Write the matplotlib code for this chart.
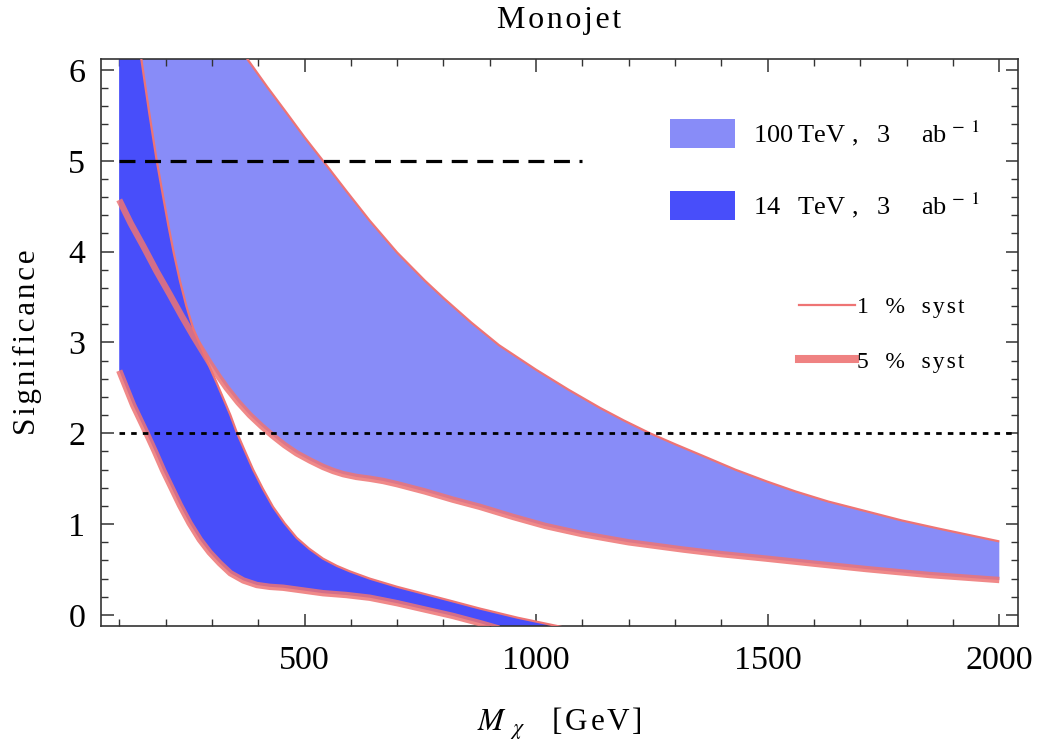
import matplotlib
matplotlib.use("Agg")
import matplotlib.pyplot as plt
from matplotlib.patches import Patch
from matplotlib.lines import Line2D

plt.rcParams['font.family'] = ['Liberation Serif', 'DejaVu Serif']
plt.rcParams['mathtext.fontset'] = 'stix'

# ---------------- data ----------------
# 100 TeV, 1% syst (upper edge of light band)
x100_1 = [100, 200, 300, 340, 378, 420, 461, 500, 540, 590, 641, 700, 760, 800, 860, 920,
          1000, 1070, 1138, 1190, 1246, 1300, 1370, 1430, 1498, 1560, 1630, 1714, 1790,
          1870, 2000]
y100_1 = [8.8, 7.7, 6.72, 6.41, 6.11, 5.81, 5.53, 5.26, 5.0, 4.67, 4.34, 3.99, 3.68, 3.49,
          3.22, 2.97, 2.70, 2.48, 2.28, 2.14, 2.0, 1.88, 1.73, 1.60, 1.47, 1.36, 1.25, 1.14,
          1.04, 0.95, 0.81]
# 100 TeV, 5% syst (lower edge of light band)
x100_5 = [100, 125, 152, 180, 209, 235, 260, 278, 296, 314, 332, 357, 382, 407, 432, 457,
          483, 512, 540, 562, 584, 612, 641, 670, 700, 760, 820, 879, 950, 1020, 1100, 1200,
          1318, 1400, 1498, 1600, 1714, 1850, 2000]
y100_5 = [4.57, 4.31, 4.06, 3.79, 3.53, 3.29, 3.07, 2.92, 2.77, 2.63, 2.50, 2.34, 2.20, 2.08,
          1.97, 1.87, 1.78, 1.70, 1.63, 1.585, 1.55, 1.52, 1.50, 1.475, 1.44, 1.36, 1.27,
          1.19, 1.08, 0.98, 0.89, 0.80, 0.72, 0.67, 0.62, 0.565, 0.505, 0.44, 0.385]
# 14 TeV, 1% syst (upper edge of dark band)
x14_1 = [100, 120, 135, 148, 165, 181, 195, 206, 218, 231, 245, 260, 278, 296, 310, 325,
         340, 353, 370, 389, 410, 432, 457, 483, 510, 540, 570, 598, 641, 700, 760, 820,
         879, 960, 1044, 1080]
y14_1 = [8.2, 7.2, 6.55, 6.11, 5.52, 5.0, 4.60, 4.29, 3.98, 3.68, 3.40, 3.15, 2.94, 2.72,
         2.56, 2.38, 2.20, 2.02, 1.82, 1.60, 1.39, 1.19, 1.01, 0.85, 0.73, 0.62, 0.54, 0.48,
         0.40, 0.31, 0.23, 0.15, 0.07, -0.03, -0.12, -0.16]
# 14 TeV, 5% syst (lower edge of dark band)
x14_5 = [100, 115, 130, 145, 159, 177, 195, 213, 231, 252, 274, 295, 317, 340, 368, 397,
         425, 454, 497, 540, 590, 641, 700, 760, 820, 879, 920]
y14_5 = [2.69, 2.50, 2.31, 2.15, 2.0, 1.80, 1.59, 1.40, 1.21, 1.01, 0.83, 0.69, 0.57, 0.46,
         0.38, 0.33, 0.31, 0.30, 0.27, 0.24, 0.22, 0.19, 0.13, 0.06, -0.01, -0.09, -0.15]

five_sigma_x = [100, 1100]
five_sigma_y = [5, 5]
two_sigma_x = [100, 2041]
two_sigma_y = [2, 2]

xticks_major = [500, 1000, 1500, 2000]
xticks_minor = list(range(100, 2001, 100))
yticks_major = [0, 1, 2, 3, 4, 5, 6]
yticks_minor = [i * 0.2 for i in range(0, 31)]

HS = '\u200a'   # hair space (slight letter spacing as in the original)
TH = '\u2009'   # thin space
EN = '\u2002'
EM = '\u2003'
SUP = "$^{\\,-\\;1}$"
labels_band = ["100" + TH + "TeV" + " ," + EN + TH + "3" + EM + TH + "ab" + SUP,
               "14" + EN + TH + "TeV" + " ," + EN + TH + "3" + EM + TH + "ab" + SUP]
labels_syst = ["1" + EN + TH + "%" + EN + TH + HS.join("syst"),
               "5" + EN + TH + "%" + EN + TH + HS.join("syst")]
title_text = HS.join("Monojet")
ylabel_text = HS.join("Significance")
xlabel_text = "$M_{\\;\\;\\chi}$" + EN + TH + TH + HS.join("[GeV]")

c_light = '#888CF8'
c_dark = '#484EFA'
c_red = '#EE7474'

# ---------------- figure ----------------
fig = plt.figure(figsize=(10.4, 7.45), dpi=100)
ax = fig.add_axes([0.09683, 0.16013, 0.88231, 0.76067])

ax.fill(x100_1 + x100_5[::-1], y100_1 + y100_5[::-1], color=c_light, lw=0, zorder=1)
ax.fill(x14_1 + x14_5[::-1], y14_1 + y14_5[::-1], color=c_dark, lw=0, zorder=2)

ax.plot(x100_1, y100_1, color=c_red, lw=1.6, zorder=3, solid_capstyle='butt',
        solid_joinstyle='round')
ax.plot(x14_1, y14_1, color=c_red, lw=1.6, zorder=3, solid_capstyle='butt',
        solid_joinstyle='round')
ax.plot(x100_5, y100_5, color=c_red, lw=4.6, alpha=0.85, zorder=4, solid_capstyle='butt',
        solid_joinstyle='round')
ax.plot(x14_5, y14_5, color=c_red, lw=4.6, alpha=0.85, zorder=4, solid_capstyle='butt',
        solid_joinstyle='round')

ax.plot(five_sigma_x, five_sigma_y, color='black', lw=2.3, ls=(0, (5, 3)), zorder=5)
ax.plot(two_sigma_x, two_sigma_y, color='black', lw=2.0, ls=(0, (2, 2.2)), zorder=5)

ax.set_xlim(60, 2041)
ax.set_ylim(-0.118, 6.121)

ax.set_xticks(xticks_major)
ax.set_xticks(xticks_minor, minor=True)
ax.set_yticks(yticks_major)
ax.set_yticks(yticks_minor, minor=True)
ax.tick_params(which='both', direction='in', top=True, right=True, color='#333333')
ax.tick_params(which='major', length=9, width=1.1, labelsize=24.5)
ax.tick_params(axis='x', which='major', pad=14)
ax.tick_params(axis='y', which='major', pad=11)
ax.tick_params(which='minor', length=5, width=1.0)
for s in ax.spines.values():
    s.set_color('#333333')
    s.set_linewidth(1.2)

ax.set_title(title_text, fontsize=23, pad=22)
ax.set_xlabel(xlabel_text, fontsize=22.5)
ax.xaxis.set_label_coords(0.5, -0.141)
ax.set_ylabel(ylabel_text, fontsize=22.5)
ax.yaxis.set_label_coords(-0.064, 0.5)

h_band = [Patch(facecolor=c_light, edgecolor='none'), Patch(facecolor=c_dark, edgecolor='none')]
leg1 = ax.legend(h_band, labels_band, loc='upper left', bbox_to_anchor=(0.6204, 0.8954),
                 frameon=False, fontsize=19, handlelength=2.46, handleheight=1.3,
                 handletextpad=0.68, labelspacing=1.62, borderpad=0, borderaxespad=0)
ax.add_artist(leg1)
h_syst = [Line2D([], [], color=c_red, lw=1.6), Line2D([], [], color=c_red, lw=5.8, alpha=0.9)]
ax.legend(h_syst, labels_syst, loc='upper left', bbox_to_anchor=(0.7613, 0.581),
          frameon=False, fontsize=17, handlelength=2.35, handletextpad=0.1,
          labelspacing=1.4, borderpad=0, borderaxespad=0)

fig.savefig("out.png", dpi=100)
